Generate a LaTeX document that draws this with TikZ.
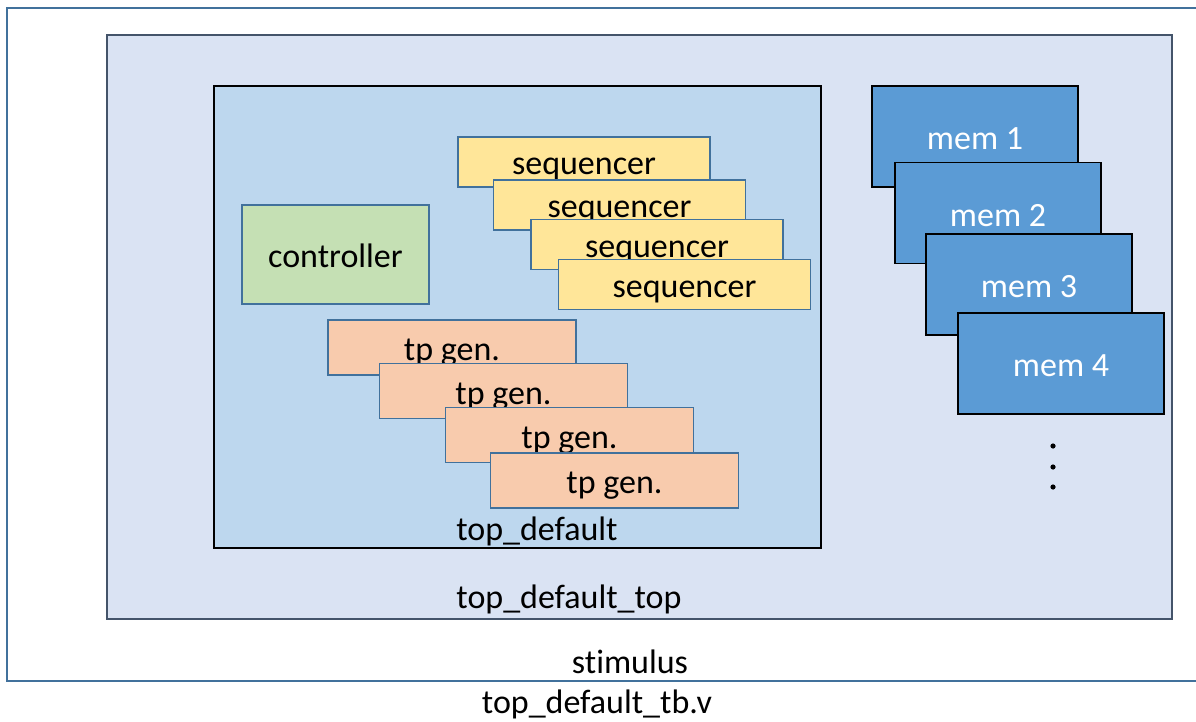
\documentclass[tikz,border=0pt]{standalone}
\usepackage{fontspec}
\setmainfont{Carlito}[Ligatures=NoCommon]
\usepackage{xcolor}
\usetikzlibrary{positioning}

\definecolor{frameblue}{HTML}{41719C}
\definecolor{topfill}{HTML}{DAE3F3}
\definecolor{topline}{HTML}{44546A}
\definecolor{dutfill}{HTML}{BDD7EE}
\definecolor{seqfill}{HTML}{FFE699}
\definecolor{ctrlfill}{HTML}{C5E0B4}
\definecolor{tpfill}{HTML}{F8CBAD}
\definecolor{memfill}{HTML}{5B9BD5}

\begin{document}
\begin{tikzpicture}[
      x=1pt, y=-1pt,
      frame/.style={draw, rectangle, inner sep=0pt, line width=1.6pt},
      box/.style={draw=frameblue, rectangle, inner sep=0pt, line width=1.3pt,
                  text height=31pt, text depth=5pt,
                  font=\fontsize{34}{41}\selectfont},
      seqbox/.style={box, fill=seqfill, minimum width=252pt, minimum height=50pt},
      tpbox/.style={box, fill=tpfill, minimum width=248pt, minimum height=55pt},
      ctrlbox/.style={box, fill=ctrlfill, minimum width=187pt, minimum height=99pt},
      membox/.style={box, draw=black, fill=memfill, text=white,
                     minimum width=206pt, minimum height=101pt},
      lbl/.style={anchor=base, inner sep=0pt, font=\fontsize{34}{41}\selectfont}]
    \useasboundingbox (0,0) rectangle (1196,722);
    % frames, outside in
    \node[frame, draw=frameblue, minimum width=1203pt, minimum height=673pt] (tb) at (608.5,344.5) {};
    \node[frame, draw=topline, fill=topfill, minimum width=1065pt, minimum height=584pt] (top) at (639.5,327) {};
    \node[frame, draw=black, fill=dutfill, minimum width=607pt, minimum height=462pt] (dut) at (517.5,317) {};
    % inside top_default
    \node[ctrlbox] (ctrl) at (335.5,254.5) {controller};
    \node[seqbox] (seq1) at (584,162) {sequencer};
    \node[seqbox] (seq2) at (619.5,205) {sequencer};
    \node[seqbox] (seq3) at (657,244.5) {sequencer};
    \node[seqbox] (seq4) at (684.5,284.5) {sequencer};
    \node[tpbox] (tp1) at (452,347.5) {tp gen.};
    \node[tpbox] (tp2) at (503.5,391) {tp gen.};
    \node[tpbox] (tp3) at (569.5,435) {tp gen.};
    \node[tpbox] (tp4) at (614.5,480.5) {tp gen.};
    % memories
    \node[membox] (mem1) at (975,136.5) {mem 1};
    \node[membox] (mem2) at (998,213) {mem 2};
    \node[membox] (mem3) at (1029,284.5) {mem 3};
    \node[membox] (mem4) at (1061,363.5) {mem 4};
    \fill (1053,446) circle (2.6) (1053,467) circle (2.6) (1053,487) circle (2.6);
    % labels
    \node[lbl] (dutlbl) at (537,540) {top\_default};
    \node[lbl] (toplbl) at (569,608) {top\_default\_top};
    \node[lbl] (stimlbl) at (630,673) {stimulus};
    \node[lbl] (tblbl) at (597,713) {top\_default\_tb.v};
  \end{tikzpicture}
\end{document}
